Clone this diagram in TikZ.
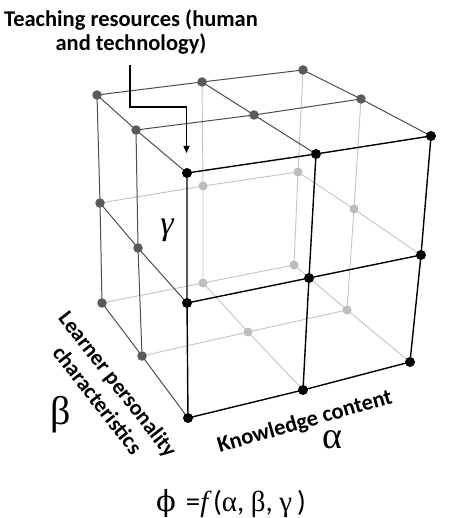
\documentclass[tikz,border=0pt]{standalone}
\usepackage{fontspec}
\setmainfont{Carlito}
\newfontfamily\grk{Liberation Serif}
\newfontfamily\phifont{DejaVu Serif}
\usetikzlibrary{arrows.meta}
\definecolor{lightline}{HTML}{C4C4C4}
\definecolor{darkline}{HTML}{4E4E4E}
\definecolor{dotgray}{HTML}{5A5A5A}
\definecolor{dotlight}{HTML}{BDBDBD}
\begin{document}
\begin{tikzpicture}[x=1pt,y=-1pt,
  hid/.style={draw=lightline, line width=0.9pt},
  mid/.style={draw=darkline, line width=1pt},
  frt/.style={draw=black, line width=1.4pt},
  bdot/.style={circle, fill=black, inner sep=0pt, minimum size=10pt},
  gdot/.style={circle, fill=dotgray, inner sep=0pt, minimum size=9.5pt},
  ldot/.style={circle, fill=dotlight, inner sep=0pt, minimum size=9pt},
  lbl/.style={font=\fontsize{22.5}{24}\selectfont\bfseries, inner sep=0pt, align=center}]
\useasboundingbox[fill=white] (0,0) rectangle (450,518);
% top level
\coordinate (p000) at (97,95);  \coordinate (p100) at (202,82);  \coordinate (p200) at (303,70);
\coordinate (p001) at (136,130); \coordinate (p101) at (254,115); \coordinate (p201) at (361,99);
\coordinate (p002) at (187,173); \coordinate (p102) at (316,154); \coordinate (p202) at (431,136);
% middle level
\coordinate (p010) at (100,203); \coordinate (p110) at (203,186); \coordinate (p210) at (298,172);
\coordinate (p011) at (138,248); \coordinate (p211) at (354,209);
\coordinate (p012) at (187,303); \coordinate (p112) at (309,278); \coordinate (p212) at (421,255);
% bottom level
\coordinate (p020) at (102,303); \coordinate (p120) at (203,283); \coordinate (p220) at (294,265);
\coordinate (p021) at (142,356); \coordinate (p121) at (248,332); \coordinate (p221) at (347,310);
\coordinate (p022) at (188,418); \coordinate (p122) at (303,390); \coordinate (p222) at (410,362);
% hidden lines
\draw[hid] (p100) -- (p110) -- (p120);
\draw[hid] (p200) -- (p210) -- (p220);
\draw[hid] (p201) -- (p211) -- (p221);
\draw[hid] (p010) -- (p110) -- (p210);
\draw[hid] (p020) -- (p120) -- (p220);
\draw[hid] (p021) -- (p121) -- (p221);
\draw[hid] (p210) -- (p211) -- (p212);
\draw[hid] (p220) -- (p221) -- (p222);
\draw[hid] (p120) -- (p121) -- (p122);
% top and left faces
\draw[mid] (p000) -- (p100) -- (p200);
\draw[mid] (p001) -- (p101) -- (p201);
\draw[mid] (p000) -- (p001) -- (p002);
\draw[mid] (p100) -- (p101) -- (p102);
\draw[mid] (p200) -- (p201) -- (p202);
\draw[mid] (p000) -- (p010) -- (p020);
\draw[mid] (p001) -- (p011) -- (p021);
\draw[mid] (p010) -- (p011) -- (p012);
\draw[mid] (p020) -- (p021) -- (p022);
% front face
\draw[frt] (p002) -- (p102) -- (p202);
\draw[frt] (p012) -- (p112) -- (p212);
\draw[frt] (p022) -- (p122) -- (p222);
\draw[frt] (p002) -- (p012) -- (p022);
\draw[frt] (p102) -- (p112) -- (p122);
\draw[frt] (p202) -- (p212) -- (p222);
% dots
\foreach \p in {p110,p210,p120,p220,p121,p221,p211}{\node[ldot] (d\p) at (\p) {};}
\foreach \p in {p000,p100,p200,p001,p101,p201,p010,p011,p020,p021}{\node[gdot] (d\p) at (\p) {};}
\foreach \p in {p002,p102,p202,p012,p112,p212,p022,p122,p222}{\node[bdot] (d\p) at (\p) {};}
% labels
\node[lbl, anchor=north] (teach) at (131,10) {Teaching resources (human\\and technology)};
\coordinate (a0) at (130,65);
\coordinate (a1) at (186.5,107);
\coordinate (a2) at (186.5,153);
\draw[line width=1.4pt, -{Triangle[length=7pt,width=6pt]}] (a0) |- (a1) -- (a2);
\node[inner sep=0pt, font=\fontsize{34}{34}\selectfont\grk\itshape] (gam) at (167,230) {γ};
\node[inner sep=0pt, font=\fontsize{40}{40}\selectfont\grk] (bet) at (61,415) {β};
\node[inner sep=0pt, font=\fontsize{38}{38}\selectfont\grk] (alp) at (332,440) {α};
\node[lbl, rotate=16] (know) at (305,422) {Knowledge content};
\node[lbl, rotate=-52, font=\fontsize{22}{26}\selectfont\bfseries] (learn) at (108,392) {Learner personality\\characteristics};
\node[inner sep=0pt, font=\fontsize{29}{29}\selectfont] (form) at (231,504)
  {{\phifont ϕ}\hspace{10pt}={\grk\itshape f}\,({\grk α}, {\grk β}, {\grk γ}\,)};
\end{tikzpicture}
\end{document}
